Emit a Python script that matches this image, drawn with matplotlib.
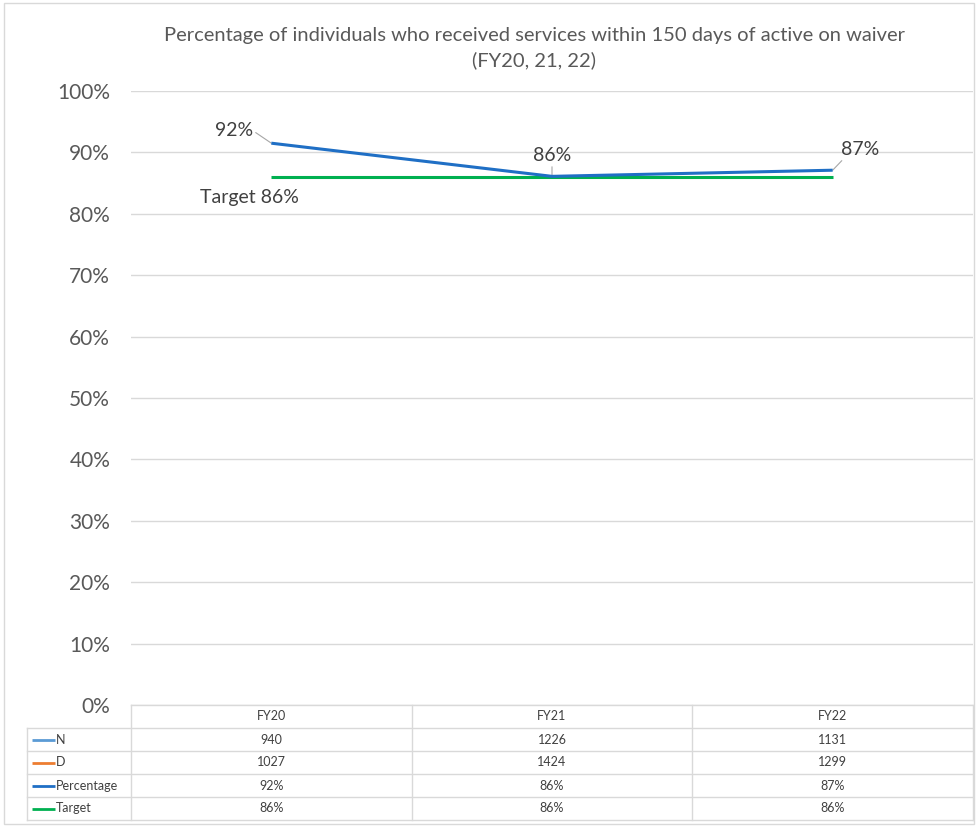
import matplotlib.pyplot as plt
from matplotlib.patches import Rectangle

plt.rcParams['font.family'] = ['Lato', 'DejaVu Sans']

# data
years = ['FY20', 'FY21', 'FY22']
n_vals = [940, 1226, 1131]
d_vals = [1027, 1424, 1299]
pct_vals = [0.915, 0.861, 0.871]
target_vals = [0.86, 0.86, 0.86]
pct_labels = ['92%', '86%', '87%']
target_labels = ['86%', '86%', '86%']

c_n = '#5b9bd5'
c_d = '#ed7d31'
c_pct = '#1f6fc5'
c_target = '#00b050'
grid_c = '#d9d9d9'
text_c = '#595959'

W, H = 976, 827
fig = plt.figure(figsize=(W / 100, H / 100), dpi=100)

# outer chart border
fig.patches.append(Rectangle((4 / W, 3 / H), 970 / W, 821 / H, transform=fig.transFigure,
                             fill=False, edgecolor='#d9d9d9', lw=1))

def px(l, t, r, b):
    return [l / W, 1 - b / H, (r - l) / W, (b - t) / H]

ax = fig.add_axes(px(131, 91, 973, 705))
x = range(len(years))
ax.plot(x, target_vals, color=c_target, lw=2.2, solid_capstyle='butt', zorder=3)
ax.plot(x, pct_vals, color=c_pct, lw=2.2, solid_capstyle='butt', zorder=4)
ax.set_xlim(-0.5, 2.5)
ax.set_ylim(0, 1)
ax.set_yticks([i / 10 for i in range(11)])
ax.set_yticklabels([f'{i * 10}%' for i in range(11)])
ax.set_xticks([])
ax.tick_params(axis='y', length=0, pad=15, labelsize=15, labelcolor=text_c)
ax.grid(axis='y', color=grid_c, lw=1)
ax.set_axisbelow(True)
for s in ax.spines.values():
    s.set_visible(False)

# data labels with leader lines
lbl_c = '#404040'
lead = dict(arrowstyle='-', color='#a6a6a6', lw=0.8, shrinkA=0, shrinkB=0)
ax.annotate(pct_labels[0], xy=(0, pct_vals[0]), xytext=(-27, 9), textcoords='offset points',
            ha='center', va='center', fontsize=14, color=lbl_c,
            arrowprops=dict(lead, relpos=(1, 0.5)))
ax.annotate(pct_labels[1], xy=(1, pct_vals[1]), xytext=(0, 15), textcoords='offset points',
            ha='center', va='center', fontsize=14, color=lbl_c,
            arrowprops=dict(lead, relpos=(0.5, 0)))
ax.annotate(pct_labels[2], xy=(2, pct_vals[2]), xytext=(19.5, 15), textcoords='offset points',
            ha='center', va='center', fontsize=14, color=lbl_c,
            arrowprops=dict(lead, relpos=(0.1, 0)))
ax.annotate('Target ' + target_labels[0], xy=(0, target_vals[0]), xytext=(-16, -14.5),
            textcoords='offset points', ha='center', va='center', fontsize=14, color=lbl_c)

fig.text(534 / W, 1 - 48 / H,
         'Percentage of individuals who received services within 150 days of active on waiver\n(FY20, 21, 22)',
         ha='center', va='center', fontsize=14.5, color=text_c, linespacing=1.45)

# data table
tab = fig.add_axes(px(131, 705, 973, 820))
tab.set_xlim(-0.5, 2.5)
tab.set_ylim(5, 0)
tab.axis('off')
edge = '#d9d9d9'
left = -0.5 - 104 / (842 / 3)

# horizontal lines
tab.plot([-0.5, 2.5], [0, 0], color=edge, lw=1, clip_on=False)
for r in range(1, 6):
    tab.plot([left, 2.5], [r, r], color=edge, lw=1, clip_on=False)
# vertical lines
tab.plot([left, left], [1, 5], color=edge, lw=1, clip_on=False)
for c in [-0.5, 0.5, 1.5, 2.5]:
    tab.plot([c, c], [0, 5], color=edge, lw=1, clip_on=False)

tc = '#404040'
for i, yr in enumerate(years):
    tab.text(i, 0.5, yr, ha='center', va='center', fontsize=9, color=tc)

rows = [('N', c_n, [str(v) for v in n_vals]),
        ('D', c_d, [str(v) for v in d_vals]),
        ('Percentage', c_pct, pct_labels),
        ('Target', c_target, target_labels)]
for r, (name, col, vals) in enumerate(rows, start=1):
    yc = r + 0.5
    tab.plot([left + 0.018, left + 0.1], [yc, yc], color=col, lw=2, clip_on=False,
             solid_capstyle='butt')
    tab.text(left + 0.102, yc, name, ha='left', va='center', fontsize=9, color=tc)
    for i, v in enumerate(vals):
        tab.text(i, yc, v, ha='center', va='center', fontsize=9, color=tc)

fig.savefig('out.png', dpi=100)
